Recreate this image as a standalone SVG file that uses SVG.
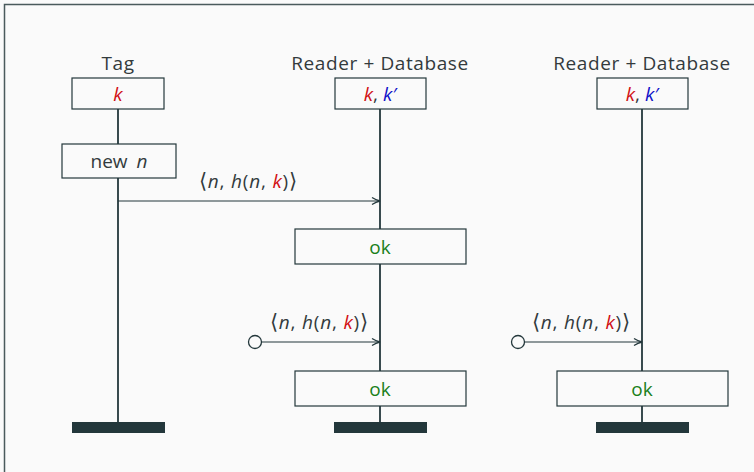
<svg xmlns="http://www.w3.org/2000/svg" width="754" height="472" viewBox="0 0 754 472">
  <defs>
    <marker id="arr" markerWidth="10" markerHeight="10" refX="9" refY="5" orient="auto" markerUnits="userSpaceOnUse">
      <path d="M1,1.5 Q5,4 9,5 Q5,6 1,8.5" fill="none" stroke="#23373b" stroke-width="1.3"/>
    </marker>
    <style>
      text { font-family: "Open Sans", "DejaVu Sans", sans-serif; fill: #333b3d; }
      .hd { font-size: 19px; text-anchor: middle; letter-spacing: 0.6px; }
      .lbl { font-size: 19px; text-anchor: middle; }
      .m { font-size: 19px; letter-spacing: 0.8px; }
      .br { font-size: 21px; font-weight: 300; }
      .i { font-style: italic; }
      .red { fill: #d10f14; }
      .blue { fill: #1010c8; }
      .ok { fill: #1a7f1a; font-size: 19px; text-anchor: middle; }
      .box { fill: #fafafa; stroke: #23373b; stroke-width: 1.2; }
      .life { stroke: #23373b; stroke-width: 1.8; fill: none; }
      .msg { stroke: #23373b; stroke-width: 1.2; fill: none; marker-end: url(#arr); }
      .bar { fill: #23373b; }
      .src { fill: #fafafa; stroke: #23373b; stroke-width: 1.3; }
    </style>
  </defs>
  <rect x="0" y="0" width="754" height="472" fill="#fafafa"/>
  <path d="M4.5,472 V4.5 H754" fill="none" stroke="#4a5a5c" stroke-width="1.5"/>

  <!-- lifelines and messages -->
  <g id="connectors">
    <line class="life" x1="118" y1="109" x2="118" y2="423"/>
    <line class="life" x1="380" y1="109" x2="380" y2="423"/>
    <line class="life" x1="642" y1="109" x2="642" y2="423"/>
    <line class="msg" x1="118" y1="201" x2="380" y2="201"/>
    <line class="msg" x1="261" y1="342" x2="380" y2="342"/>
    <line class="msg" x1="524" y1="342" x2="642" y2="342"/>
    <circle class="src" cx="255" cy="342" r="6.5"/>
    <circle class="src" cx="518" cy="342" r="6.5"/>
    <text class="m" x="199" y="188"><tspan class="br">⟨</tspan><tspan class="i">n</tspan>, <tspan class="i">h</tspan>(<tspan class="i">n</tspan>, <tspan class="i red">k</tspan>)<tspan class="br">⟩</tspan></text>
    <text class="m" x="270" y="329"><tspan class="br">⟨</tspan><tspan class="i">n</tspan>, <tspan class="i">h</tspan>(<tspan class="i">n</tspan>, <tspan class="i red">k</tspan>)<tspan class="br">⟩</tspan></text>
    <text class="m" x="532" y="329"><tspan class="br">⟨</tspan><tspan class="i">n</tspan>, <tspan class="i">h</tspan>(<tspan class="i">n</tspan>, <tspan class="i red">k</tspan>)<tspan class="br">⟩</tspan></text>
  </g>

  <!-- Tag -->
  <g id="tag">
    <text class="hd" x="118" y="70">Tag</text>
    <rect class="box" x="72" y="78" width="92" height="31"/>
    <text class="lbl i red" x="118" y="101">k</text>
  </g>
  <g id="tag-nonce">
    <rect class="box" x="62" y="144" width="114" height="34"/>
    <text class="lbl" x="119" y="168">new <tspan class="i" dx="4">n</tspan></text>
  </g>
  <g id="tag-end"><rect class="bar" x="72" y="422" width="93" height="11"/></g>

  <!-- Reader + Database (first) -->
  <g id="reader1">
    <text class="hd" x="380" y="70">Reader + Database</text>
    <rect class="box" x="335" y="78" width="91" height="31"/>
    <text class="lbl" x="380" y="101"><tspan class="i red">k</tspan>, <tspan class="i blue">k′</tspan></text>
  </g>
  <g id="reader1-ok1">
    <rect class="box" x="295" y="229" width="171" height="35"/>
    <text class="ok" x="380" y="254">ok</text>
  </g>
  <g id="reader1-ok2">
    <rect class="box" x="295" y="371" width="171" height="35"/>
    <text class="ok" x="380" y="396">ok</text>
  </g>
  <g id="reader1-end"><rect class="bar" x="334" y="422" width="93" height="11"/></g>

  <!-- Reader + Database (second) -->
  <g id="reader2">
    <text class="hd" x="642" y="70">Reader + Database</text>
    <rect class="box" x="597" y="78" width="91" height="31"/>
    <text class="lbl" x="642" y="101"><tspan class="i red">k</tspan>, <tspan class="i blue">k′</tspan></text>
  </g>
  <g id="reader2-ok">
    <rect class="box" x="557" y="371" width="171" height="35"/>
    <text class="ok" x="642" y="396">ok</text>
  </g>
  <g id="reader2-end"><rect class="bar" x="596" y="422" width="93" height="11"/></g>
</svg>
